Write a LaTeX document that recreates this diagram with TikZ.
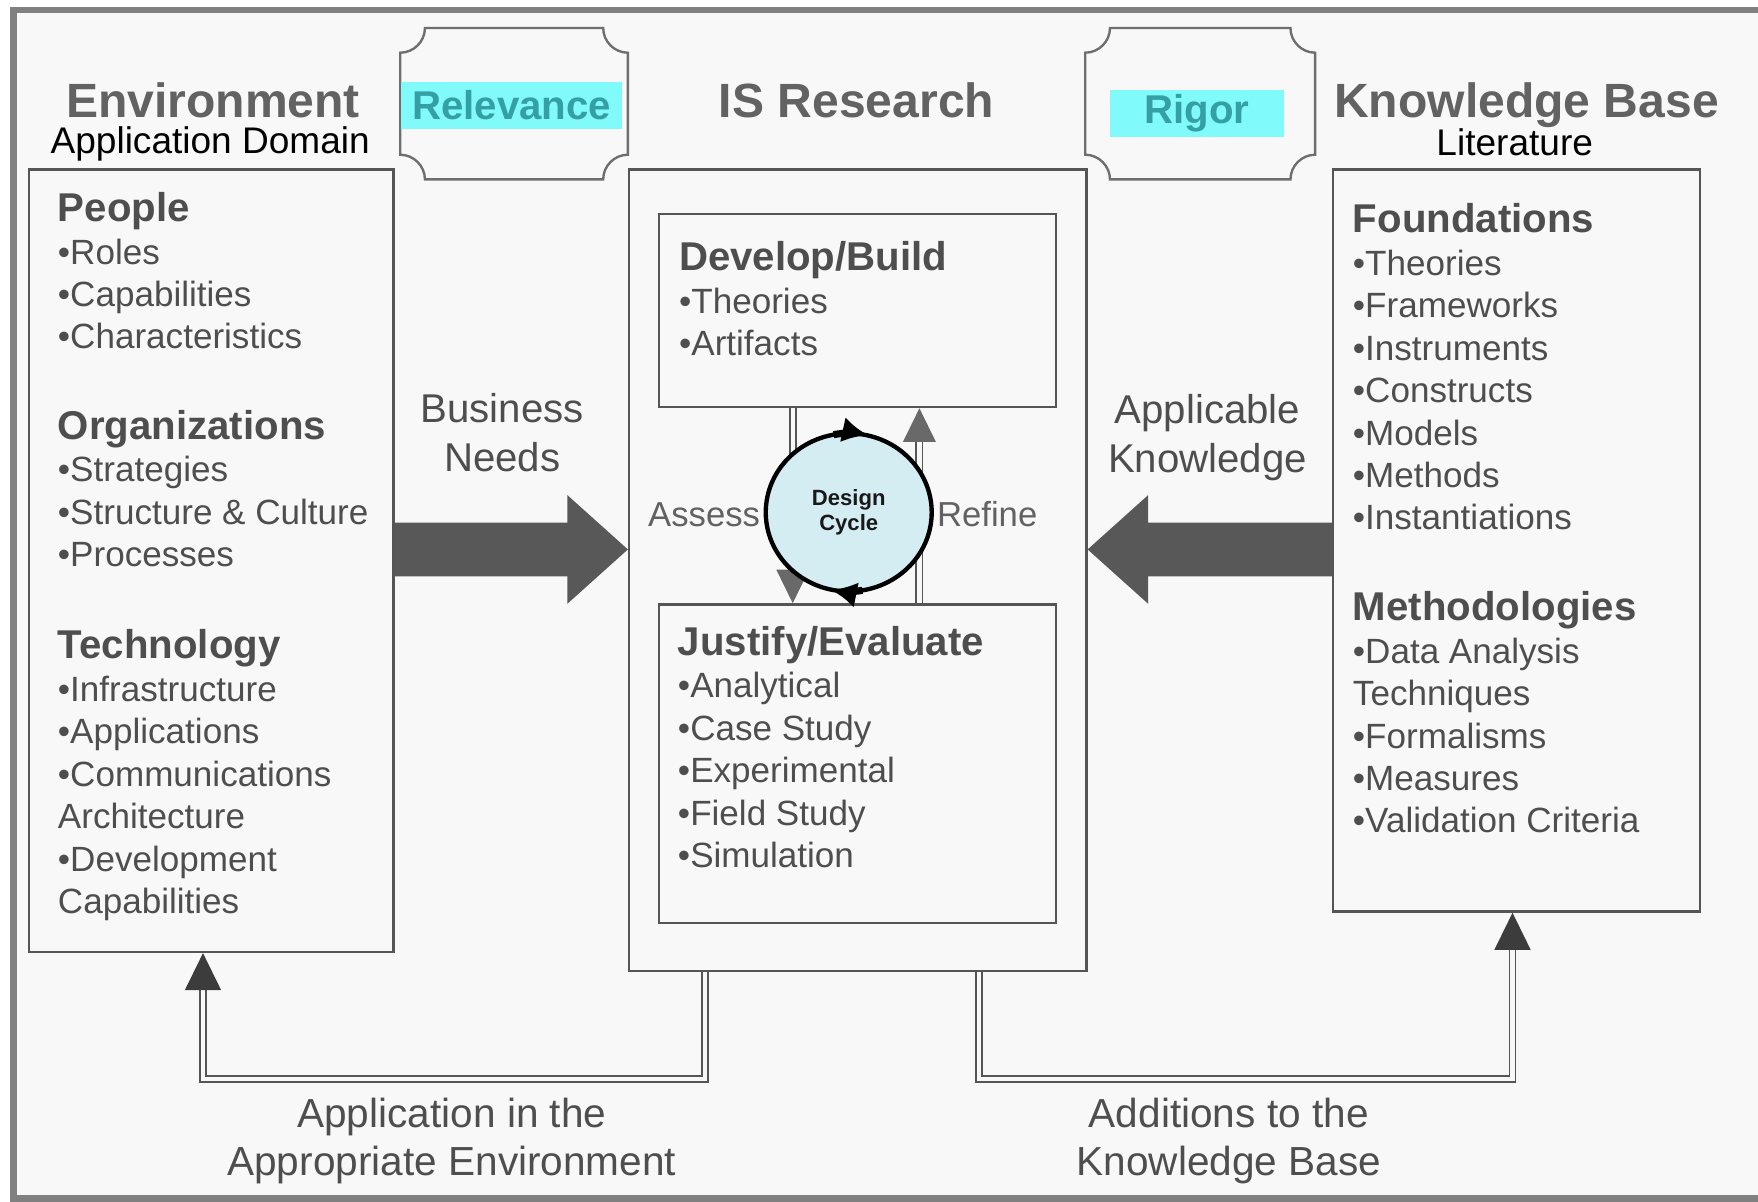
\documentclass[tikz,border=0pt]{standalone}
\usepackage{fontspec}
\setmainfont{Liberation Sans}
\usetikzlibrary{arrows.meta,shapes.geometric}
\definecolor{cBg}{RGB}{248,248,248}
\definecolor{cFrame}{RGB}{128,128,128}
\definecolor{cLine}{RGB}{85,85,85}
\definecolor{cInk}{RGB}{78,78,78}
\definecolor{cTitle}{RGB}{98,98,98}
\definecolor{cTag}{RGB}{52,160,166}
\definecolor{cHi}{RGB}{128,250,250}
\definecolor{cFat}{RGB}{88,88,88}
\definecolor{cTipD}{RGB}{60,60,60}
\definecolor{cTipM}{RGB}{105,105,105}
\definecolor{cCycle}{RGB}{212,237,243}

% bold heading line inside a list node
\newcommand{\grphead}[1]{{\fontsize{10.2}{10.77}\selectfont\bfseries #1}}

% box with concave (notched) corners around a named node
\newcommand{\notchframe}[1]{%
  \draw[notch]
    ([xshift=2.2mm]#1.north west) -- ([xshift=-2.2mm]#1.north east)
    .. controls ([xshift=-2.2mm,yshift=-1.2mm]#1.north east) and ([xshift=-1.2mm,yshift=-2.2mm]#1.north east) .. ([yshift=-2.2mm]#1.north east)
    -- ([yshift=2.2mm]#1.south east)
    .. controls ([xshift=-1.2mm,yshift=2.2mm]#1.south east) and ([xshift=-2.2mm,yshift=1.2mm]#1.south east) .. ([xshift=-2.2mm]#1.south east)
    -- ([xshift=2.2mm]#1.south west)
    .. controls ([xshift=2.2mm,yshift=1.2mm]#1.south west) and ([xshift=1.2mm,yshift=2.2mm]#1.south west) .. ([yshift=2.2mm]#1.south west)
    -- ([yshift=-2.2mm]#1.north west)
    .. controls ([xshift=1.2mm,yshift=-2.2mm]#1.north west) and ([xshift=2.2mm,yshift=-1.2mm]#1.north west) .. ([xshift=2.2mm]#1.north west)
    -- cycle;}

\tikzset{
  panel/.style={rectangle, draw=cLine, line width=0.6pt, anchor=north west, inner sep=0pt},
  notchbox/.style={rectangle, draw=none, inner sep=0pt, outer sep=0pt},
  notch/.style={draw=cLine!85, line width=0.6pt},
  bigtitle/.style={font=\fontsize{12.2}{14}\selectfont\bfseries, text=cTitle, inner sep=0pt, anchor=base},
  subtitle/.style={font=\fontsize{9.4}{11}\selectfont, text=black, inner sep=0pt, anchor=base},
  tagbox/.style={font=\fontsize{10.2}{12}\selectfont\bfseries, text=cTag, fill=cHi, inner sep=0pt, minimum height=4.2mm},
  grp/.style={align=left, anchor=north west, inner sep=0pt, font=\fontsize{8.9}{10.77}\selectfont, text=cInk},
  flowlab/.style={align=center, anchor=north, inner sep=0pt, font=\fontsize{10.2}{12.4}\selectfont, text=cInk},
  botlab/.style={align=center, anchor=north, inner sep=0pt, font=\fontsize{10.3}{12.2}\selectfont, text=cInk},
  sidelab/.style={inner sep=0pt, anchor=base, font=\fontsize{8.8}{10}\selectfont, text=cTitle},
  fatarr/.style={fill=cFat, draw=none},
  dline/.style={draw=cLine, line width=0.45pt, double=cBg, double distance=1.1pt},
  tipD/.style={-{Triangle[length=3.3mm, width=3.2mm, color=cTipD]}},
  tipM/.style={-{Triangle[length=3mm, width=2.9mm, color=cTipM]}},
  cyc/.style={ellipse, draw=black, line width=1.1pt, fill=cCycle, minimum width=14.8mm, minimum height=14.1mm,
    inner sep=0pt, outer sep=0pt, align=center, font=\fontsize{5.6}{6.3}\selectfont\bfseries, text=black!90},
  cycarr/.style={draw=black, line width=1.8pt, -{Latex[length=2.3mm, width=2.3mm]}},
}

\begin{document}
\begin{tikzpicture}[x=0.1mm, y=0.1mm]

\useasboundingbox (0,0) rectangle (1568,-1072);

% ===== paper + frame =====
\fill[white] (0,0) rectangle (1568,-1072);
\fill[cBg] (12,-9) rectangle (1568,-1069);
\draw[cFrame, line width=1.7pt] (1568,-9) -- (12,-9) -- (12,-1069) -- (1568,-1069);

% ===== three columns =====
\node[panel, minimum width=32.5mm, minimum height=69.8mm] (envbox) at (25,-150) {};
\node[panel, minimum width=40.8mm, minimum height=71.5mm] (isbox) at (560,-150) {};
\node[panel, minimum width=32.7mm, minimum height=66.2mm] (kbbox) at (1188,-150) {};

% inner boxes of IS research
\node[panel, minimum width=35.4mm, minimum height=17.2mm] (buildbox) at (587,-190) {};
\node[panel, minimum width=35.4mm, minimum height=28.4mm] (justbox) at (587,-538) {};

% ===== headings =====
\node[bigtitle] (envtitle) at (190,-105) {Environment};
\node[subtitle] (envsub) at (187.5,-137) {Application Domain};
\node[bigtitle] (istitle) at (764,-105) {IS Research};
\node[bigtitle] (kbtitle) at (1361.5,-105) {Knowledge Base};
\node[subtitle] (kbsub) at (1351,-139) {Literature};

% relevance / rigor tags
\node[notchbox, minimum width=20.3mm, minimum height=13.5mm] (relbox) at (458.5,-92.5) {};
\node[notchbox, minimum width=20.5mm, minimum height=13.5mm] (rigbox) at (1070.5,-92.5) {};
\notchframe{relbox}
\notchframe{rigbox}
\node[tagbox, minimum width=19.7mm] (relev) at (456.5,-94) {Relevance};
\node[tagbox, minimum width=15.5mm] (rigor) at (1067.5,-101) {Rigor};

% ===== environment lists =====
\node[grp] (people) at (51,-171)
  {\grphead{People}\\•Roles\\•Capabilities\\•Characteristics};
\node[grp] (orgs) at (51,-365)
  {\grphead{Organizations}\\•Strategies\\•Structure \& Culture\\•Processes};
\node[grp] (tech) at (51,-561)
  {\grphead{Technology}\\•Infrastructure\\•Applications\\•Communications\\Architecture\\•Development\\Capabilities};

% ===== IS research lists =====
\node[grp] (build) at (605,-215)
  {\grphead{Develop/Build}\\•Theories\\•Artifacts};
\node[grp] (justify) at (604,-558)
  {\grphead{Justify/Evaluate}\\•Analytical\\•Case Study\\•Experimental\\•Field Study\\•Simulation};

% ===== knowledge base lists =====
\node[grp] (found) at (1206,-181)
  {\grphead{Foundations}\\•Theories\\•Frameworks\\•Instruments\\•Constructs\\•Models\\•Methods\\•Instantiations};
\node[grp] (meth) at (1206,-527)
  {\grphead{Methodologies}\\•Data Analysis\\Techniques\\•Formalisms\\•Measures\\•Validation Criteria};

% ===== fat arrows =====
\coordinate (bnS) at ([yshift=1mm]envbox.east);
\coordinate (bnT) at (bnS -| isbox.west);
\draw[fatarr] ([yshift=2.4mm]bnS) -- ([xshift=-5.4mm,yshift=2.4mm]bnT) -- ([xshift=-5.4mm,yshift=4.85mm]bnT)
  -- (bnT) -- ([xshift=-5.4mm,yshift=-4.85mm]bnT) -- ([xshift=-5.4mm,yshift=-2.4mm]bnT) -- ([yshift=-2.4mm]bnS) -- cycle;
\node[flowlab] (bizneeds) at (448,-350) {Business\\Needs};

\coordinate (akS) at ([yshift=-0.8mm]kbbox.west);
\coordinate (akT) at (akS -| isbox.east);
\draw[fatarr] ([yshift=2.4mm]akS) -- ([xshift=5.4mm,yshift=2.4mm]akT) -- ([xshift=5.4mm,yshift=4.85mm]akT)
  -- (akT) -- ([xshift=5.4mm,yshift=-4.85mm]akT) -- ([xshift=5.4mm,yshift=-2.4mm]akT) -- ([yshift=-2.4mm]akS) -- cycle;
\node[flowlab] (appknow) at (1077,-351) {Applicable\\Knowledge};

% ===== design cycle =====
\draw[dline, tipM] ([xshift=-5.8mm]buildbox.south) -- ([xshift=-5.8mm]justbox.north);
\draw[dline, tipM] ([xshift=5.5mm]justbox.north) -- ([xshift=5.5mm]buildbox.south);
\node[sidelab] (assess) at (628,-470) {Assess};
\node[sidelab] (refine) at (880.5,-470) {Refine};

\node[cyc] (cycle) at (757,-457) {Design\\Cycle};
\draw[cycarr] (cycle.101) arc[start angle=101, end angle=77, x radius=7.4mm, y radius=7.05mm];
\draw[cycarr] (cycle.-80) arc[start angle=-80, end angle=-102, x radius=7.4mm, y radius=7.05mm];

% ===== feedback to environment / knowledge base =====
\draw[dline, tipD] ([xshift=-13.6mm]isbox.south) -- ++(0,-95) -| ([xshift=-0.75mm]envbox.south);
\draw[dline, tipD] ([xshift=10.8mm]isbox.south) -- ++(0,-95) -| ([xshift=-0.35mm]kbbox.south);
\node[botlab] (appenv) at (403,-979) {Application in the\\Appropriate Environment};
\node[botlab] (addkb) at (1096,-979) {Additions to the\\Knowledge Base};

\end{tikzpicture}
\end{document}
